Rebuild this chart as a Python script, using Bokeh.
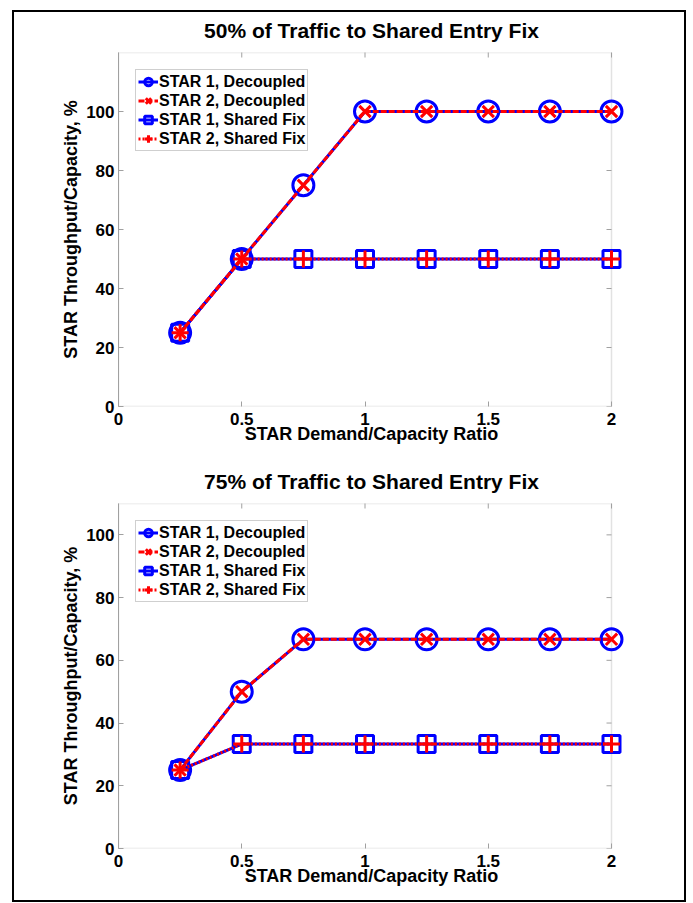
import math
from bokeh.plotting import figure
from bokeh.layouts import column
from bokeh.models import FixedTicker, Legend, LegendItem, Range1d, BoxAnnotation
from bokeh.embed import file_html
from bokeh.resources import INLINE

ratio = [0.25, 0.5, 0.75, 1.0, 1.25, 1.5, 1.75, 2.0]

# 50% of traffic to shared entry fix
p50_star1_decoupled = [25, 50, 75, 100, 100, 100, 100, 100]
p50_star2_decoupled = [25, 50, 75, 100, 100, 100, 100, 100]
p50_star1_shared = [25, 50, 50, 50, 50, 50, 50, 50]
p50_star2_shared = [25, 50, 50, 50, 50, 50, 50, 50]

# 75% of traffic to shared entry fix
p75_star1_decoupled = [25, 50, 66.7, 66.7, 66.7, 66.7, 66.7, 66.7]
p75_star2_decoupled = [25, 50, 66.7, 66.7, 66.7, 66.7, 66.7, 66.7]
p75_star1_shared = [25, 33.3, 33.3, 33.3, 33.3, 33.3, 33.3, 33.3]
p75_star2_shared = [25, 33.3, 33.3, 33.3, 33.3, 33.3, 33.3, 33.3]

x_ticks = [0, 0.5, 1, 1.5, 2]
x_tick_labels = ["0", "0.5", "1", "1.5", "2"]
y_ticks = [0, 20, 40, 60, 80, 100]
labels = ["STAR 1, Decoupled", "STAR 2, Decoupled", "STAR 1, Shared Fix", "STAR 2, Shared Fix"]
x_min, x_max = 0, 2

FONT = "Liberation Sans"
GRAY = "#a0a0a0"
PX_PER_X = 493 / 2.0      # frame pixels per x unit for the 0..2 box
EXTRA_PX = 13             # room right of the box so edge markers are not clipped


def make_fig(title, ymax, series, height, top, bottom):
    x_hi = x_max + EXTRA_PX / PX_PER_X
    p = figure(width=670, height=height, output_backend="svg", toolbar_location=None,
               x_range=Range1d(x_min, x_hi), y_range=Range1d(0, ymax),
               min_border_left=104, min_border_right=73 - EXTRA_PX,
               min_border_top=top, min_border_bottom=bottom)
    p.title.text = title
    p.title.align = "center"
    p.title.text_font = FONT
    p.title.text_font_size = "21px"
    p.title.text_font_style = "bold"
    p.title.text_color = "black"
    p.title.standoff = 21
    p.title.offset = -EXTRA_PX / 2
    p.xgrid.visible = False
    p.ygrid.visible = False
    p.outline_line_color = None
    p.background_fill_color = "white"
    p.border_fill_alpha = 0

    # the MATLAB-style box around 0..2
    p.add_layout(BoxAnnotation(left=x_min, right=x_max, bottom=0, top=ymax,
                               fill_color=None, line_color=GRAY, line_width=1.5,
                               level="underlay"))

    for ax, ticks in ((p.xaxis[0], x_ticks), (p.yaxis[0], y_ticks)):
        ax.ticker = FixedTicker(ticks=ticks)
        ax.axis_line_color = GRAY
        ax.major_tick_line_color = GRAY
        ax.major_tick_in = 5
        ax.major_tick_out = 0
        ax.minor_tick_line_color = None
        ax.major_label_text_font = FONT
        ax.major_label_text_font_size = "17px"
        ax.major_label_text_font_style = "bold"
        ax.major_label_text_color = "black"
        ax.axis_label_text_font = FONT
        ax.axis_label_text_font_size = "18px"
        ax.axis_label_text_font_style = "bold"
        ax.axis_label_text_color = "black"
    p.xaxis[0].axis_line_color = None
    p.xaxis[0].major_label_overrides = dict(zip(x_ticks, x_tick_labels))
    p.xaxis[0].axis_label = "STAR Demand/Capacity Ratio"
    p.xaxis[0].major_label_standoff = 6
    p.xaxis[0].axis_label_standoff = -4
    p.yaxis[0].axis_label = "STAR Throughput/Capacity, %"
    p.yaxis[0].major_label_standoff = 4
    p.yaxis[0].axis_label_standoff = 2

    # box ticks on top and right edges (drawn inward)
    p.scatter(x_ticks, [ymax] * len(x_ticks), marker="dash", angle=math.pi / 2, size=10,
              line_color=GRAY, line_width=1)
    p.segment(x0=[x_max] * len(y_ticks), y0=y_ticks,
              x1=[x_max - 5 / PX_PER_X] * len(y_ticks), y1=y_ticks,
              line_color=GRAY, line_width=1)

    s1d, s2d, s1s, s2s = series
    # STAR 1 Decoupled: blue solid, circles
    l1 = p.line(ratio, s1d, line_color="blue", line_width=3)
    m1 = p.scatter(ratio, s1d, marker="circle", size=21, line_color="blue", line_width=3,
                   fill_color=None)
    # STAR 1 Shared: blue solid, squares
    l3 = p.line(ratio, s1s, line_color="blue", line_width=3)
    m3 = p.scatter(ratio, s1s, marker="square", size=17, line_color="blue", line_width=3,
                   fill_color=None)
    # STAR 2 Decoupled: red dashed, x
    l2 = p.line(ratio, s2d, line_color="red", line_width=3, line_dash="6 2")
    m2 = p.scatter(ratio, s2d, marker="x", size=16, line_color="red", line_width=3)
    # STAR 2 Shared: red dotted, +
    l4 = p.line(ratio, s2s, line_color="red", line_width=3, line_dash="2 2")
    m4 = p.scatter(ratio, s2s, marker="cross", size=17, line_color="red", line_width=3)

    items = [
        LegendItem(label=labels[0], renderers=[l1, m1]),
        LegendItem(label=labels[1], renderers=[l2, m2]),
        LegendItem(label=labels[2], renderers=[l3, m3]),
        LegendItem(label=labels[3], renderers=[l4, m4]),
    ]
    legend = Legend(items=items, location="top_left")
    legend.margin = 17
    legend.padding = 2
    legend.spacing = 0
    legend.glyph_width = 20
    legend.glyph_height = 19
    legend.label_standoff = 1
    legend.label_text_font = FONT
    legend.label_text_font_size = "16px"
    legend.label_text_font_style = "bold"
    legend.label_text_color = "black"
    legend.label_height = 19
    legend.border_line_color = GRAY
    legend.border_line_width = 1.5
    legend.background_fill_alpha = 1
    p.add_layout(legend)
    return p


p1 = make_fig("50% of Traffic to Shared Entry Fix", 120,
              (p50_star1_decoupled, p50_star2_decoupled, p50_star1_shared, p50_star2_shared),
              451, 46, 51)
p1.margin = (-6, 0, 0, 0)
p2 = make_fig("75% of Traffic to Shared Entry Fix", 110,
              (p75_star1_decoupled, p75_star2_decoupled, p75_star1_shared, p75_star2_shared),
              443, 46, 52)

layout = column(p1, p2, spacing=0, margin=(10, 0, 0, 12),
                styles={"border": "2px solid black", "background": "white"})

open("out.html", "w").write(file_html(layout, INLINE))
